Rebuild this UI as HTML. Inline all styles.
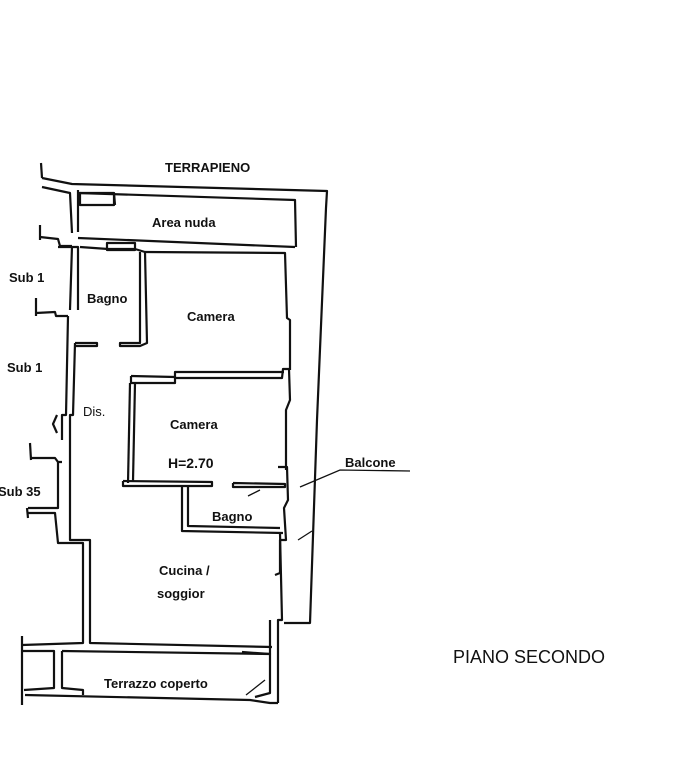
<!DOCTYPE html>
<html><head><meta charset="utf-8"><style>
html,body{margin:0;padding:0;background:#fff;width:680px;height:768px;overflow:hidden}
svg{display:block}
text{font-family:"Liberation Sans",Arial,sans-serif;font-weight:bold;fill:#111}
text.n{font-weight:normal}
</style></head><body>
<svg width="680" height="768" viewBox="0 0 680 768" xmlns="http://www.w3.org/2000/svg">
<g fill="none" stroke="#111" stroke-width="2.2" stroke-linejoin="round">
<polyline points="41,163 42,178"/>
<polyline points="42,178 72,184 327,191 326,208 317,420 310,623 284,623"/>
<polyline points="42,187 70,193 72,233"/>
<polyline points="78,190 78,232"/>
<polyline points="78,193 295,200 296,247"/>
<rect x="80" y="193" width="34" height="12"/>
<polyline points="114,193 115,205"/>
<polyline points="40,225 40,240"/>
<polyline points="40,237 58,239 60,246 72,246"/>
<polyline points="58,247 78,247 78,310"/>
<polyline points="72,246 70,310"/>
<polyline points="78,238 295,247"/>
<polyline points="80,247 108,249 135,249 145,252 285,253 287,318 290,320 290,370"/>
<rect x="107" y="243" width="28" height="7"/>
<polyline points="140,252 140,343 120,343 120,346 140,346 147,343 145,252"/>
<polyline points="75,343 97,343 97,346 75,346"/>
<polyline points="36,298 36,316"/>
<polyline points="36,313 55,312 56,316 68,316"/>
<polyline points="68,316 66,415 62,415 62,440"/>
<polyline points="75,343 73,415 70,415 70,540 90,540 90,643 272,647"/>
<polyline points="131,376 131,383 175,383 175,378 282,378 283,369 289,369 290,400 286,410 286,470"/>
<polyline points="131,376 175,377 175,372 284,372"/>
<polyline points="130,383 128,483"/>
<polyline points="135,383 133,481"/>
<polyline points="123,481 212,482 212,486 123,486 123,481"/>
<polyline points="233,483 285,484 285,487 233,487 233,483"/>
<polyline points="182,486 182,531 283,533"/>
<polyline points="188,486 188,526 280,528"/>
<polyline points="278,467 287,467 288,500 284,508 286,540 280,540 280,573 275,575"/>
<polyline points="280,533 282,620 278,620 278,703"/>
<polyline points="30,443 31,460"/>
<polyline points="30,458 55,458 58,462 62,462"/>
<polyline points="58,462 58,508 28,508"/>
<polyline points="28,513 55,513 58,543 83,543 83,643 22,645"/>
<polyline points="27,508 28,518"/>
<polyline points="22,636 22,705"/>
<polyline points="22,651 54,651 54,688 24,690"/>
<polyline points="62,651 62,688 83,690 83,695"/>
<polyline points="25,695 250,700 270,703 278,703"/>
<polyline points="62,651 270,654 270,620"/>
<polyline points="242,652 270,654 270,693 255,697"/>
<polyline points="57,415 53,424 57,433"/>
</g>
<g stroke="#111" stroke-width="1.3" fill="none">
<polyline points="300,487 340,470 410,471"/>
<polyline points="298,540 312,531"/>
<polyline points="248,496 260,490"/>
<polyline points="246,695 265,680"/>
</g>
<text x="165" y="172" font-size="13">TERRAPIENO</text>
<text x="152" y="227" font-size="13">Area nuda</text>
<text x="9" y="282" font-size="13">Sub 1</text>
<text x="7" y="372" font-size="13">Sub 1</text>
<text x="87" y="303" font-size="13">Bagno</text>
<text x="187" y="321" font-size="13">Camera</text>
<text x="83" y="416" font-size="13" class="n">Dis.</text>
<text x="170" y="429" font-size="13">Camera</text>
<text x="168" y="468" font-size="14">H=2.70</text>
<text x="-2" y="496" font-size="13">Sub 35</text>
<text x="212" y="521" font-size="13">Bagno</text>
<text x="345" y="467" font-size="13">Balcone</text>
<text x="159" y="575" font-size="13">Cucina /</text>
<text x="157" y="598" font-size="13">soggior</text>
<text x="104" y="688" font-size="13">Terrazzo coperto</text>
<text x="453" y="663" font-size="18" class="n">PIANO SECONDO</text>
</svg>
</body></html>
